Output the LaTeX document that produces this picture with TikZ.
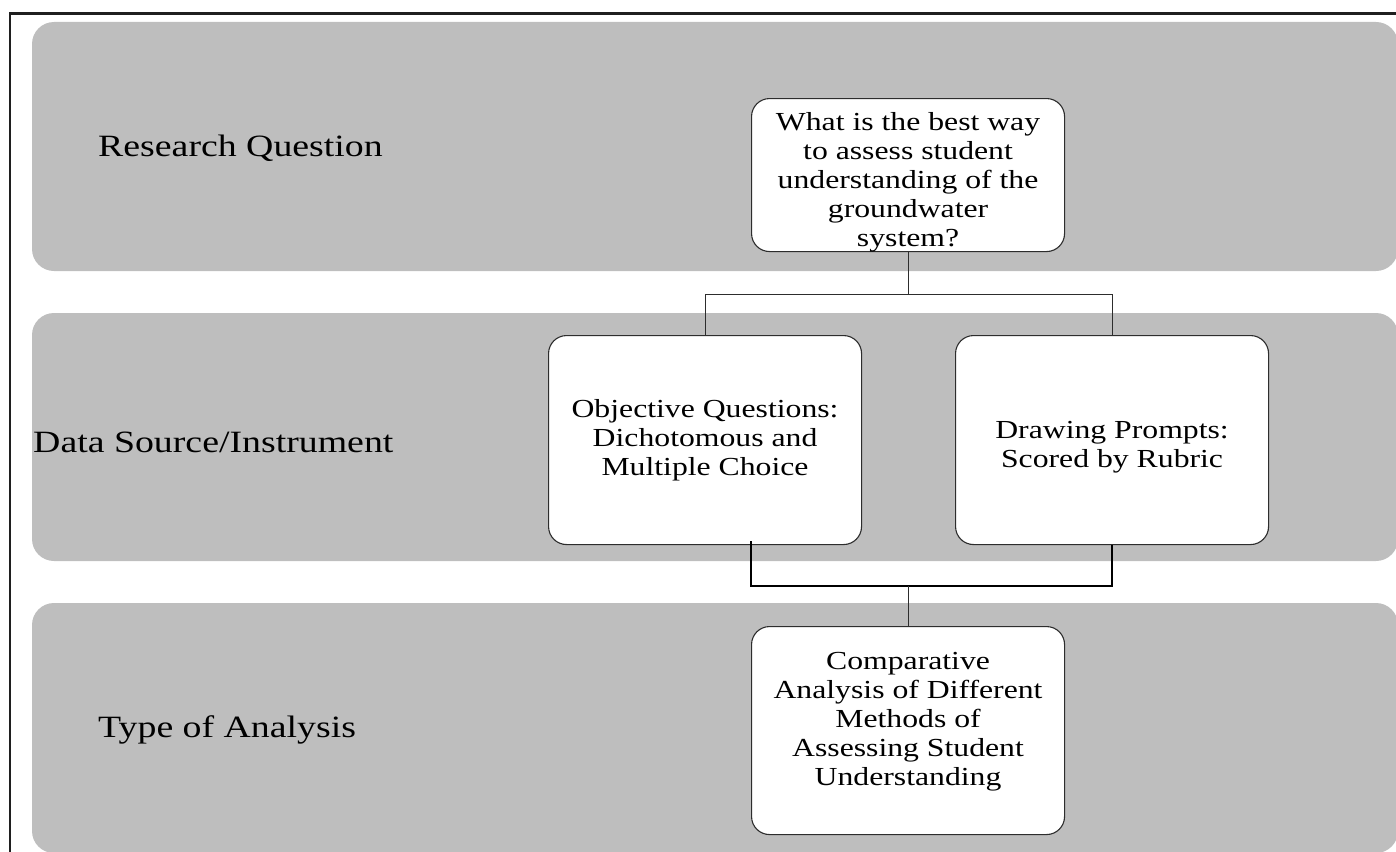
\documentclass[tikz,border=0pt]{standalone}
\usepackage{fontspec}
\setmainfont[FakeStretch=1.22]{Liberation Serif}
\usetikzlibrary{calc}
\definecolor{bandgray}{RGB}{190,190,190}
\definecolor{boxline}{RGB}{45,45,45}
\newcommand{\diagfont}{\fontsize{26}{29}\selectfont}
\newcommand{\rowfont}{\fontsize{31}{36}\selectfont}
\begin{document}
\begin{tikzpicture}[x=1pt,y=-1pt,
  band/.style={fill=bandgray, rounded corners=22pt},
  box/.style={draw=boxline, line width=1.1pt, fill=white, rounded corners=18pt,
    align=center, inner sep=0pt, anchor=north west, font=\diagfont},
  rowlabel/.style={anchor=west, inner sep=0pt, font=\rowfont},
  thinlink/.style={draw=boxline, line width=1.1pt},
  boldlink/.style={draw=black, line width=2.4pt}]
\useasboundingbox (0,0) rectangle (1396,851);
\clip (0,0) rectangle (1396,851);
% outer frame
\draw[line width=2.6pt, draw=black!88] (10,1000) -- (10,13.5) -- (1500,13.5);
% row bands
\fill[band] (32,22) rectangle (1398,271);
\fill[band] (32,313) rectangle (1398,561);
\fill[band] (32,603) rectangle (1398,853);
% row labels
\node[rowlabel] (l1) at (98,148) {Research Question};
\node[rowlabel] (l2) at (33,442) {Data Source/Instrument};
\node[rowlabel] (l3) at (98,730) {Type of Analysis};
% boxes (a trailing negative skip nudges the lines inside a box)
\node[box, minimum width=313pt, minimum height=153pt] (q) at (751,98)
  {What is the best way\\to assess student\\understanding of the\\groundwater\\system?\\[-37pt]};
\node[box, minimum width=313pt, minimum height=209pt] (obj) at (548,335)
  {Objective Questions:\\Dichotomous and\\Multiple Choice};
\node[box, minimum width=313pt, minimum height=209pt] (drw) at (955,335)
  {Drawing Prompts:\\Scored by Rubric\\[-37pt]};
\node[box, minimum width=313pt, minimum height=208pt] (ana) at (751,626)
  {Comparative\\Analysis of Different\\Methods of\\Assessing Student\\Understanding\\[-5pt]};
% connectors
\coordinate (j1) at ($(q.south)+(0,42)$);
\draw[thinlink] (q.south) -- (j1);
\draw[thinlink] (obj.north) |- (j1) -| (drw.north);
\coordinate (j2) at (ana.north |- 0,586);
\draw[boldlink] ($(obj.south -| ana.west)+(0,-4)$) |- (j2) -| (drw.south);
\draw[thinlink] (j2) -- (ana.north);
\end{tikzpicture}
\end{document}
